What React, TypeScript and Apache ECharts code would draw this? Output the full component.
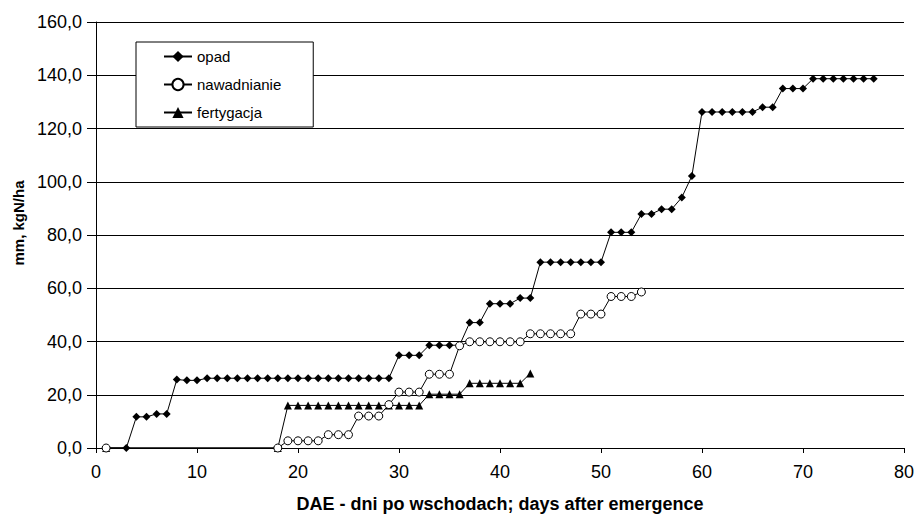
import React, { useEffect, useRef } from "react";
import * as echarts from "echarts";

const opadDays = [1, 3, 4, 5, 6, 7, 8, 9, 10, 11, 12, 13, 14, 15, 16, 17, 18, 19, 20, 21, 22, 23, 24, 25, 26, 27, 28, 29, 30, 31, 32, 33, 34, 35, 36, 37, 38, 39, 40, 41, 42, 43, 44, 45, 46, 47, 48, 49, 50, 51, 52, 53, 54, 55, 56, 57, 58, 59, 60, 61, 62, 63, 64, 65, 66, 67, 68, 69, 70, 71, 72, 73, 74, 75, 76, 77];
const opadValues = [0, 0, 11.7, 11.7, 12.8, 12.8, 25.7, 25.4, 25.4, 26.2, 26.2, 26.2, 26.2, 26.2, 26.2, 26.2, 26.2, 26.2, 26.2, 26.2, 26.2, 26.2, 26.2, 26.2, 26.2, 26.2, 26.2, 26.2, 34.8, 34.8, 34.8, 38.6, 38.6, 38.6, 38.6, 47.1, 47.1, 54.2, 54.2, 54.2, 56.3, 56.3, 69.8, 69.8, 69.8, 69.8, 69.8, 69.8, 69.8, 81.0, 81.0, 81.0, 87.9, 87.9, 89.7, 89.7, 94.1, 102.2, 126.2, 126.2, 126.2, 126.2, 126.2, 126.2, 128.0, 128.0, 135.0, 135.0, 135.0, 138.7, 138.7, 138.7, 138.7, 138.7, 138.7, 138.7];

const nawDays = [1, 18, 19, 20, 21, 22, 23, 24, 25, 26, 27, 28, 29, 30, 31, 32, 33, 34, 35, 36, 37, 38, 39, 40, 41, 42, 43, 44, 45, 46, 47, 48, 49, 50, 51, 52, 53, 54];
const nawValues = [0, 0, 2.7, 2.7, 2.7, 2.7, 5.0, 5.0, 5.0, 12.0, 12.0, 12.0, 16.3, 21.0, 21.0, 21.0, 27.7, 27.7, 27.7, 38.4, 39.9, 39.9, 39.9, 39.9, 39.9, 39.9, 42.9, 42.9, 42.9, 42.9, 42.9, 50.3, 50.3, 50.3, 56.9, 56.9, 56.9, 58.6];

const fertDays = [1, 18, 19, 20, 21, 22, 23, 24, 25, 26, 27, 28, 29, 30, 31, 32, 33, 34, 35, 36, 37, 38, 39, 40, 41, 42, 43];
const fertValues = [0, 0, 16.0, 16.0, 16.0, 16.0, 16.0, 16.0, 16.0, 16.0, 16.0, 16.0, 16.0, 16.0, 16.0, 16.0, 20.2, 20.2, 20.2, 20.2, 24.3, 24.3, 24.3, 24.3, 24.3, 24.3, 28.0];

const seriesNames = ["opad", "nawadnianie", "fertygacja"];
const xTitle = "DAE - dni po wschodach; days after emergence";
const yTitle = "mm, kgN/ha";

const pairs = (xs: number[], ys: number[]) => xs.map((x, i) => [x, ys[i]]);

const FONT = "'Liberation Sans', Arial, sans-serif";

export default function App() {
  const ref = useRef<HTMLDivElement>(null);
  useEffect(() => {
    if (!ref.current) return;
    const chart = echarts.init(ref.current, undefined, { renderer: "svg" });
    const fmt = (v: number) => v.toFixed(1).replace(".", ",");
    chart.setOption({
      animation: false,
      backgroundColor: "#ffffff",
      textStyle: { fontFamily: FONT },
      grid: { left: 96, right: 11, top: 22, bottom: 68, containLabel: false },
      legend: {
        orient: "vertical",
        left: 136,
        top: 42,
        data: seriesNames,
        backgroundColor: "#ffffff",
        borderColor: "#000000",
        borderWidth: 1,
        borderRadius: 0,
        padding: [7, 32, 7, 27],
        itemWidth: 28,
        itemHeight: 14,
        itemGap: 13,
        textStyle: { fontFamily: FONT, fontSize: 15, color: "#000" },
      },
      xAxis: {
        type: "value",
        min: 0,
        max: 80,
        interval: 10,
        name: xTitle,
        nameLocation: "middle",
        nameGap: 47,
        nameTextStyle: { fontFamily: FONT, fontSize: 18, fontWeight: "bold", color: "#000" },
        axisLine: { onZero: false, lineStyle: { color: "#000", width: 1 } },
        axisTick: { show: true, length: 5, lineStyle: { color: "#000" } },
        axisLabel: { fontFamily: FONT, fontSize: 18, color: "#000", margin: 15 },
        splitLine: { show: false },
      },
      yAxis: {
        type: "value",
        min: 0,
        max: 160,
        interval: 20,
        name: yTitle,
        nameLocation: "middle",
        nameGap: 68,
        nameRotate: 90,
        nameTextStyle: { fontFamily: FONT, fontSize: 15, fontWeight: "bold", color: "#000", padding: [0, 0, 0, 24] },
        axisLine: { show: true, lineStyle: { color: "#000", width: 1 } },
        axisTick: { show: true, length: 9, lineStyle: { color: "#000" } },
        axisLabel: { fontFamily: FONT, fontSize: 18, color: "#000", margin: 14, formatter: fmt },
        splitLine: { show: true, lineStyle: { color: "#000", width: 1 } },
      },
      series: [
        {
          name: seriesNames[0],
          type: "line",
          data: pairs(opadDays, opadValues),
          symbol: "diamond",
          symbolSize: 8,
          itemStyle: { color: "#000", borderColor: "#000", borderWidth: 0 },
          lineStyle: { color: "#000", width: 1 },
          z: 2,
        },
        {
          name: seriesNames[1],
          type: "line",
          data: pairs(nawDays, nawValues),
          symbol: "circle",
          symbolSize: 8,
          showAllSymbol: true,
          itemStyle: { color: "#fff", borderColor: "#000", borderWidth: 1 },
          lineStyle: { color: "#000", width: 1 },
          z: 4,
        },
        {
          name: seriesNames[2],
          type: "line",
          data: pairs(fertDays, fertValues),
          symbol: "triangle",
          symbolSize: 8,
          itemStyle: { color: "#000", borderColor: "#000", borderWidth: 0 },
          lineStyle: { color: "#000", width: 1 },
          z: 3,
        },
      ],
    });
    return () => chart.dispose();
  }, []);
  return <div ref={ref} style={{ width: 917, height: 518, position: "absolute", left: 0, top: 0 }} />;
}
